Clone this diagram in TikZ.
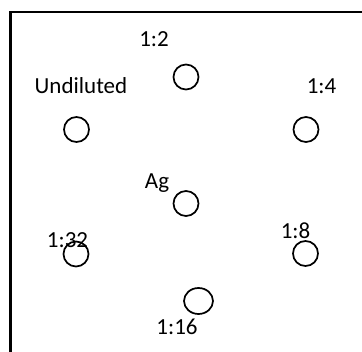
\documentclass[tikz,border=0pt]{standalone}
\usepackage{fontspec}
\setmainfont{Carlito}
\begin{document}
\begin{tikzpicture}[x=1pt,y=-1pt,
  well/.style={draw=black,line width=1.7pt,circle,minimum size=25pt,inner sep=0pt},
  lbl/.style={anchor=base,inner sep=0pt,font=\fontsize{23}{27}\selectfont}]
\useasboundingbox (0,0) rectangle (362,352);
\draw[line width=2.2pt] (10.5,400) -- (10.5,12) -- (400,12);
\node[well] (w2) at (186,77) {};
\node[well] (wu) at (76.5,129.5) {};
\node[well] (w4) at (306,129.5) {};
\node[well] (wag) at (186,203.5) {};
\node[well] (w32) at (76,254) {};
\node[well] (w8) at (305.5,253.5) {};
\draw[line width=1.7pt] (198.5,301) ellipse [x radius=14.5,y radius=13];
\node[lbl] (t2) at (154,47) {1:2};
\node[lbl] (tu) at (81,94) {Undiluted};
\node[lbl] (t4) at (321.5,94) {1:4};
\node[lbl] (tag) at (157,189) {Ag};
\node[lbl] (t32) at (67.5,248) {1:32};
\node[lbl] (t8) at (295.5,239) {1:8};
\node[lbl] (t16) at (177,335) {1:16};
\end{tikzpicture}
\end{document}
